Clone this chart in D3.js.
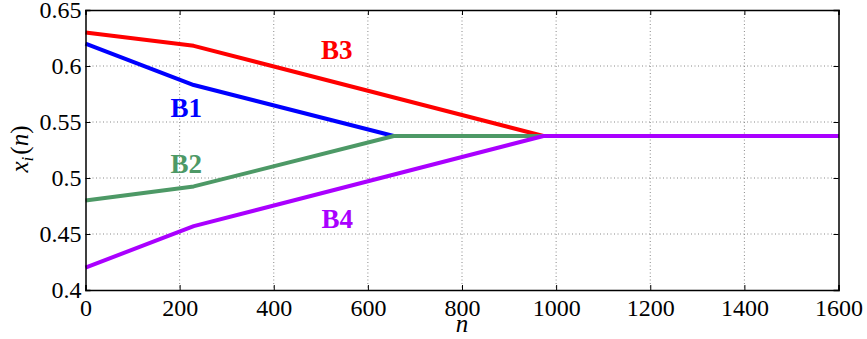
<!DOCTYPE html>
<html><head><meta charset="utf-8">
<script src="https://cdn.jsdelivr.net/npm/d3@7"></script>
<style>body{margin:0;background:#fff}svg{display:block}
svg text{font-family:"Liberation Serif","Times New Roman",Times,serif;}
</style>
</head><body>
<script>
const xTicks = [0,200,400,600,800,1000,1200,1400,1600];
const yTicks = [0.4,0.45,0.5,0.55,0.6,0.65];
const yTickLabels = ["0.4","0.45","0.5","0.55","0.6","0.65"];
const seriesNames = ["B3","B1","B2","B4"];
const seriesColors = ["#ff0000","#0000ff","#4d9966","#aa00ff"];
const b3 = [[0,0.630],[230,0.618],[973,0.5375],[1600,0.5375]];
const b1 = [[0,0.620],[230,0.583],[655,0.5375],[1600,0.5375]];
const b2 = [[0,0.480],[230,0.4925],[655,0.5375],[1600,0.5375]];
const b4 = [[0,0.420],[230,0.457],[973,0.5375],[1600,0.5375]];
const labelPos = [[534,0.6063],[214,0.5545],[214,0.5045],[535,0.4554]];

const W=867,H=339;
const m={l:85.5,r:838.5,t:10,b:290};
const svg=d3.select("body").append("svg").attr("width",W).attr("height",H);
const x=d3.scaleLinear().domain([0,1600]).range([m.l,m.r]);
const y=d3.scaleLinear().domain([0.4,0.65]).range([m.b,m.t]);

// grid
const g=svg.append("g");
g.selectAll(".gx").data(xTicks.slice(1,-1)).enter().append("line")
 .attr("x1",d=>x(d)).attr("x2",d=>x(d)).attr("y1",m.t).attr("y2",m.b)
 .attr("stroke","#888").attr("stroke-width",1).attr("stroke-dasharray","1,2.5");
g.selectAll(".gy").data(yTicks.slice(1,-1)).enter().append("line")
 .attr("y1",d=>y(d)).attr("y2",d=>y(d)).attr("x1",m.l).attr("x2",m.r)
 .attr("stroke","#888").attr("stroke-width",1).attr("stroke-dasharray","1,2.5");

// lines
const line=d3.line().x(d=>x(d[0])).y(d=>y(d[1]));
[b3,b1,b2,b4].forEach((s,i)=>{
 svg.append("path").datum(s).attr("d",line).attr("fill","none")
  .attr("stroke",seriesColors[i]).attr("stroke-width",4).attr("stroke-linejoin","round");
});

// axes
const xb=svg.append("g").attr("transform",`translate(0,${m.b})`)
 .call(d3.axisBottom(x).tickValues(xTicks).tickSize(-5).tickPadding(12).tickFormat(d3.format("d")));
const xt=svg.append("g").attr("transform",`translate(0,${m.t})`)
 .call(d3.axisTop(x).tickValues(xTicks).tickSize(-5).tickFormat(""));
const yl=svg.append("g").attr("transform",`translate(${m.l},0)`)
 .call(d3.axisLeft(y).tickValues(yTicks).tickSize(-5).tickPadding(4).tickFormat((d,i)=>yTickLabels[i]));
const yr=svg.append("g").attr("transform",`translate(${m.r},0)`)
 .call(d3.axisRight(y).tickValues(yTicks).tickSize(-5).tickFormat(""));
[xb,xt,yl,yr].forEach(a=>{
 a.attr("font-family",null).attr("font-size",null);
 a.select(".domain").attr("stroke","#000").attr("stroke-width",1.5);
 a.selectAll(".tick line").attr("stroke","#000");
 a.selectAll("text").style("font-size","24px").attr("fill","#000");
});
xb.selectAll("text").attr("dy","0.71em").attr("y",9);

// series labels
svg.selectAll(".lab").data(seriesNames).enter().append("text")
 .attr("x",(d,i)=>x(labelPos[i][0])).attr("y",(d,i)=>y(labelPos[i][1]))
 .attr("text-anchor","middle").style("font-weight","bold")
 .style("font-size","27px").attr("fill",(d,i)=>seriesColors[i]).text(d=>d);

// axis labels
svg.append("text").attr("x",(m.l+m.r)/2).attr("y",332).attr("text-anchor","middle")
 .style("font-style","italic").style("font-size","25px").text("n");
const yt=svg.append("text").attr("transform","translate(28,149) rotate(-90)")
 .attr("text-anchor","middle").style("font-style","italic").style("font-size","25px");
yt.append("tspan").text("x");
yt.append("tspan").style("font-size","17px").attr("dy",5).text("i");
yt.append("tspan").attr("dy",-5).attr("dx",2).style("font-style","normal").text("(");
yt.append("tspan").text("n");
yt.append("tspan").style("font-style","normal").text(")");
</script>
</body></html>
